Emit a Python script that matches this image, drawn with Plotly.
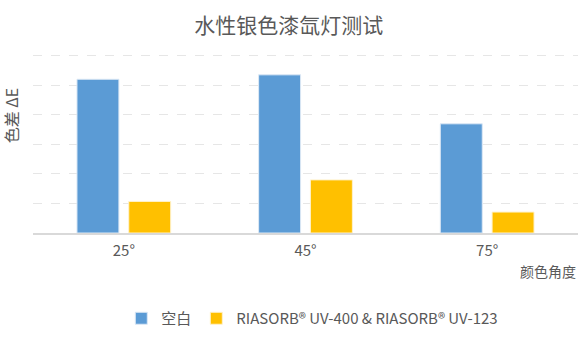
import plotly.graph_objects as go

categories = ["25°", "45°", "75°"]
blank_values = [5.21, 5.36, 3.70]
riasorb_values = [1.07, 1.80, 0.71]
series_names = ["空白", "RIASORB® UV-400 & RIASORB® UV-123"]

FONT = "Noto Sans CJK SC"
GREY = "#595959"

fig = go.Figure()
fig.add_trace(go.Bar(x=categories, y=blank_values, name=series_names[0],
                     marker=dict(color="#5B9BD5", line=dict(color="#DCE8F5", width=1))))
fig.add_trace(go.Bar(x=categories, y=riasorb_values, name=series_names[1],
                     marker=dict(color="#FFC000", line=dict(color="#FFF2CC", width=1))))

fig.update_layout(
    width=581, height=342,
    margin=dict(l=33, r=3, t=53, b=109),
    paper_bgcolor="white", plot_bgcolor="white",
    font=dict(family=FONT, color=GREY, size=13),
    barmode="group", bargap=0.43, bargroupgap=0.19,
    title=dict(text="水性银色漆氙灯测试", x=0.497, xanchor="center", y=0.925, yanchor="middle",
               font=dict(size=21, color=GREY, family=FONT)),
    showlegend=True,
    legend=dict(orientation="h", x=0.162, xanchor="left", y=-0.475, yanchor="middle",
                font=dict(size=15, color=GREY, family=FONT), itemwidth=30, traceorder="normal"),
    xaxis=dict(showline=True, linecolor="#D9D9D9", linewidth=1.5, ticks="",
               tickfont=dict(size=15, color=GREY), ticklabelstandoff=3, fixedrange=True),
    yaxis=dict(range=[0, 6.1], dtick=1, showticklabels=False, showgrid=True,
               gridcolor="#E6E6E6", griddash="dash", gridwidth=1, zeroline=False, fixedrange=True),
)

fig.add_annotation(text="色差 ΔE", xref="paper", yref="paper", x=-0.040, y=0.655,
                   xanchor="center", yanchor="middle", textangle=-90, showarrow=False,
                   font=dict(size=16, color=GREY, family=FONT))
fig.add_annotation(text="颜色角度", xref="paper", yref="paper", x=1.0, y=-0.21,
                   xanchor="right", yanchor="middle", showarrow=False,
                   font=dict(size=14, color=GREY, family=FONT))

fig.write_html("out.html")
